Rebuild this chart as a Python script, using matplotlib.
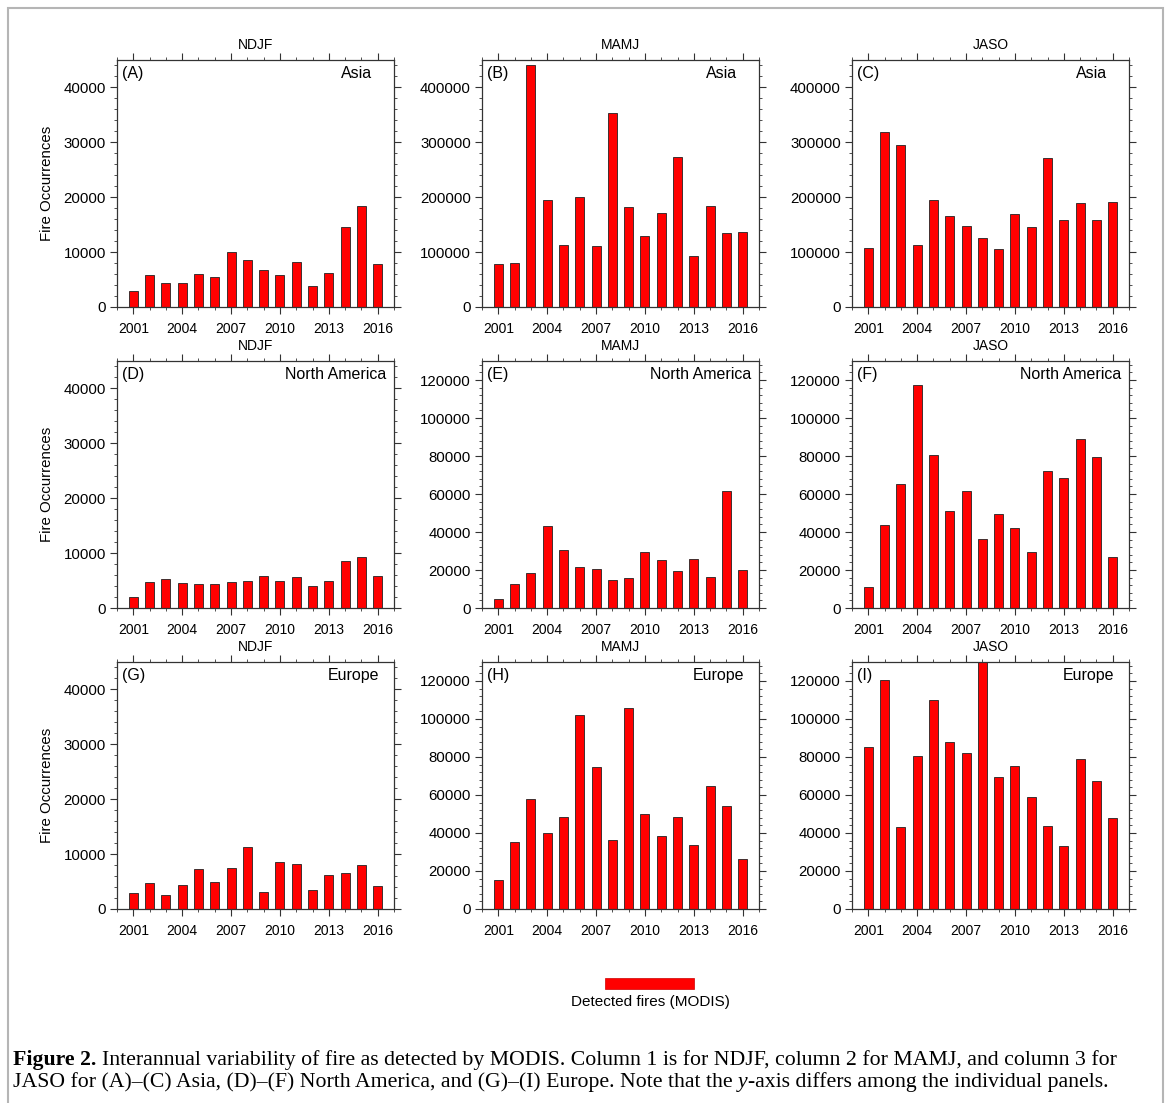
import matplotlib
matplotlib.use('Agg')
import matplotlib.pyplot as plt
import numpy as np
from matplotlib.ticker import MultipleLocator, AutoMinorLocator
from matplotlib.patches import Rectangle

plt.rcParams['font.family'] = ['Liberation Sans', 'DejaVu Sans']

years = np.arange(2001, 2017)
year_ticks = [2001, 2004, 2007, 2010, 2013, 2016]

# NDJF / MAMJ / JASO fire counts per region
asia_ndjf = [2900, 5900, 4300, 4400, 6000, 5500, 10100, 8500,
             6700, 5800, 8200, 3900, 6200, 14600, 18400, 7900]
asia_mamj = [77600, 80600, 441000, 194500, 113300, 200000, 112000, 354000,
             182400, 129000, 172000, 273000, 92700, 184000, 134500, 137500]
asia_jaso = [108000, 318800, 295800, 112700, 195000, 166700, 146700, 125500,
             104800, 169700, 145500, 271000, 157600, 189000, 158000, 191000]

na_ndjf = [2000, 4700, 5200, 4600, 4400, 4400, 4700, 5000,
           5800, 4900, 5600, 4000, 4900, 8500, 9300, 5800]
na_mamj = [4700, 12800, 18600, 43300, 30500, 21500, 20500, 14900,
           15900, 29400, 25400, 19300, 25600, 16300, 61500, 20100]
na_jaso = [11000, 43800, 65500, 117500, 80600, 51300, 61500, 36400,
           49700, 42000, 29400, 72000, 68500, 88800, 79500, 27000]

eu_ndjf = [2900, 4700, 2600, 4400, 7200, 5000, 7500, 11300,
           3100, 8500, 8200, 3400, 6200, 6500, 8100, 4200]
eu_mamj = [15100, 35100, 57700, 39800, 48600, 102100, 74700, 36500,
           105600, 49800, 38200, 48600, 33500, 64700, 54000, 26500]
eu_jaso = [85100, 120500, 43000, 80400, 110200, 88100, 82000, 135000,
           69300, 75300, 58800, 43500, 33300, 78800, 67500, 48100]

seasons = ['NDJF', 'MAMJ', 'JASO']
regions = ['Asia', 'North America', 'Europe']
letters = ['A', 'B', 'C', 'D', 'E', 'F', 'G', 'H', 'I']
data = [[asia_ndjf, asia_mamj, asia_jaso],
        [na_ndjf, na_mamj, na_jaso],
        [eu_ndjf, eu_mamj, eu_jaso]]
ymax = [[45000, 450000, 450000],
        [45000, 130000, 130000],
        [45000, 130000, 130000]]
ystep = [[10000, 100000, 100000],
         [10000, 20000, 20000],
         [10000, 20000, 20000]]

W, H = 1169, 1103
fig = plt.figure(figsize=(W / 100, H / 100), dpi=100)

col_left = [117, 482, 852]
col_w = 277
row_top = [60, 361, 662]
row_h = 247
region_off = {'Asia': 22, 'North America': 8, 'Europe': 15}

for r in range(3):
    for c in range(3):
        ax = fig.add_axes([col_left[c] / W, 1 - (row_top[r] + row_h) / H,
                           col_w / W, row_h / H])
        ax.bar(years, data[r][c], width=0.55, color='#ff0000',
               edgecolor='#222222', linewidth=0.6)
        ax.set_xlim(2000, 2017)
        ax.set_ylim(0, ymax[r][c])
        ax.set_xticks(year_ticks)
        ax.xaxis.set_minor_locator(MultipleLocator(1))
        ax.yaxis.set_major_locator(MultipleLocator(ystep[r][c]))
        ax.yaxis.set_minor_locator(AutoMinorLocator(5))
        ax.tick_params(which='both', direction='out', top=True, right=True,
                       color='#333333')
        ax.tick_params(which='major', length=5, width=0.8, pad=3)
        ax.tick_params(axis='x', which='major', pad=6, labelsize=10)
        ax.tick_params(axis='y', which='major', labelsize=10.8)
        ax.tick_params(which='minor', length=2.5, width=0.6)
        for sp in ax.spines.values():
            sp.set_linewidth(0.9)
            sp.set_color('#333333')
        ax.set_title(seasons[c], fontsize=10, pad=8)
        ax.text(5 / col_w, 1 - 6 / row_h, '(%s)' % letters[r * 3 + c],
                transform=ax.transAxes, ha='left', va='top', fontsize=11.5)
        reg = regions[r]
        ax.text(1 - region_off[reg] / col_w, 1 - 6 / row_h, reg,
                transform=ax.transAxes, ha='right', va='top', fontsize=11.5)
        if c == 0:
            fig.text(47 / W, 1 - (row_top[r] + row_h / 2) / H, 'Fire Occurrences',
                     rotation=90, ha='center', va='center', fontsize=10.8)

# legend
fig.add_artist(Rectangle((605 / W, 1 - 989 / H), 89 / W, 11 / H,
                         transform=fig.transFigure, facecolor='#ff0000',
                         edgecolor='#cc0000', linewidth=0.5))
fig.text(650 / W, 1 - 1002 / H, 'Detected fires (MODIS)', ha='center',
         va='center', fontsize=11)

# outer frame
fig.add_artist(Rectangle((8 / W, -0.02), (1163 - 8) / W, 1.02 - 8 / H,
                         transform=fig.transFigure, fill=False,
                         edgecolor='#b5b5b5', linewidth=1.5))

# caption
renderer = fig.canvas.get_renderer()
serif = ['Liberation Serif', 'DejaVu Serif']


def width_of(s, size, **kw):
    t = fig.text(0, 0, s, fontsize=size, family=serif, **kw)
    w = t.get_window_extent(renderer).width
    t.remove()
    return w


line1 = [('Figure 2.', 'bold', 'normal'),
         ('Interannual variability of fire as detected by MODIS. Column 1 is for NDJF, '
          'column 2 for MAMJ, and column 3 for', 'normal', 'normal')]
line2 = [('JASO for (A)\u2013(C) Asia, (D)\u2013(F) North America, and (G)\u2013(I) Europe. '
          'Note that the', 'normal', 'normal'),
         ('y', 'normal', 'italic'),
         ('-axis differs among the individual panels.', 'normal', 'normal')]
gaps2 = [True, False]


def draw_line(runs, gaps, x0, y0, size, draw=True):
    sp = width_of('x x', size) - width_of('xx', size)
    x = x0
    for i, (s, wt, st) in enumerate(runs):
        if draw:
            fig.text(x / W, 1 - y0 / H, s, fontsize=size, family=serif,
                     weight=wt, style=st, va='baseline', ha='left')
        x += width_of(s, size, weight=wt, style=st)
        if i < len(runs) - 1 and gaps[i]:
            x += sp
    return x - x0


base = 12.0
w2 = draw_line(line2, gaps2, 13, 0, base, draw=False)
size = base * (1107 - 13) / w2
draw_line(line1, [True], 13, 1065, size)
draw_line(line2, gaps2, 13, 1087, size)

fig.savefig('out.png', dpi=100)
